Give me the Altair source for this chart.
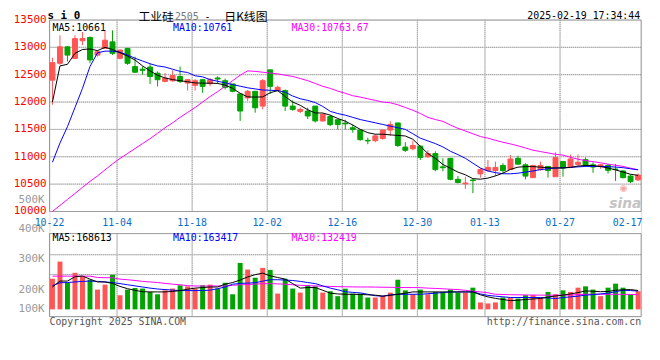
import altair as alt
import pandas as pd

# ---------------- data ----------------
open_ = [12400, 12708, 13009, 12798, 13120, 13180, 12858, 12980, 13100, 12800,
         12980, 12648, 12600, 12640, 12527, 12377, 12390, 12467, 12347, 12305,
         12408, 12336, 12440, 12390, 12330, 12148, 12076, 12196, 11926, 12588,
         12209, 12209, 11926, 11830, 11836, 11926, 11655, 11735, 11676, 11615,
         11530, 11488, 11300, 11294, 11335, 11488, 11618, 11177, 11147, 11194,
         11000, 11059, 10815, 10971, 10588, 10505, 10575, 10688, 10747, 10747,
         10841, 10765, 10971, 10853, 10618, 10765, 10824, 10635, 10912, 10812,
         10860, 10947, 10853, 10830, 10841, 10775, 10741, 10647, 10577]
close_ = [12720, 13009, 12858, 13160, 13160, 12770, 12919, 13130, 12890, 12950,
          12708, 12545, 12580, 12467, 12408, 12437, 12485, 12377, 12408, 12390,
          12287, 12408, 12420, 12269, 12196, 11836, 12196, 11895, 12390, 12287,
          12269, 11926, 11866, 11866, 11745, 11655, 11776, 11588, 11588, 11600,
          11500, 11312, 11290, 11382, 11488, 11588, 11206, 11118, 11206, 10988,
          11059, 10765, 10800, 10588, 10530, 10520, 10565, 10765, 10806, 10806,
          10747, 10959, 10865, 10647, 10841, 10841, 10747, 10988, 10794, 10959,
          10900, 10841, 10812, 10853, 10753, 10765, 10618, 10547, 10665]
high_ = [12810, 13220, 13020, 13220, 13280, 13200, 12950, 13300, 13310, 12960,
         12990, 12830, 12650, 12700, 12558, 12530, 12580, 12648, 12420, 12420,
         12420, 12440, 12470, 12430, 12330, 12148, 12220, 12196, 12420, 12588,
         12300, 12230, 12030, 11900, 11896, 11926, 11790, 11765, 11676, 11676,
         11590, 11488, 11350, 11412, 11488, 11647, 11618, 11265, 11294, 11206,
         11118, 11100, 10971, 10971, 10647, 10635, 10590, 10794, 10941, 10912,
         10882, 11030, 11018, 10882, 10853, 10912, 10824, 11080, 10912, 11040,
         11040, 10988, 10900, 10870, 10870, 10870, 10753, 10677, 10694]
low_ = [11950, 12680, 12740, 12790, 13040, 12710, 12830, 12970, 12860, 12780,
        12680, 12530, 12500, 12330, 12287, 12360, 12370, 12347, 12209, 12209,
        12166, 12290, 12330, 12230, 12180, 11655, 12020, 11805, 11866, 12150,
        12190, 11836, 11840, 11800, 11690, 11625, 11640, 11560, 11500, 11500,
        11440, 11294, 11230, 11265, 11312, 11382, 11177, 11088, 11118, 10941,
        10982, 10735, 10735, 10570, 10512, 10412, 10335, 10618, 10723, 10647,
        10706, 10765, 10853, 10588, 10618, 10747, 10618, 10635, 10635, 10794,
        10830, 10812, 10706, 10780, 10694, 10559, 10606, 10518, 10559]
volume = [274000, 427000, 236000, 327000, 294000, 265000, 177000, 221000, 309000, 126000,
          177000, 191000, 186000, 156000, 135000, 170000, 186000, 215000, 206000, 186000,
          215000, 221000, 186000, 238000, 135000, 415000, 356000, 283000, 371000, 353000,
          141000, 274000, 186000, 150000, 215000, 206000, 150000, 162000, 118000, 185000,
          141000, 141000, 106000, 106000, 121000, 150000, 265000, 170000, 135000, 177000,
          135000, 156000, 156000, 177000, 150000, 150000, 194000, 62000, 53000, 62000,
          106000, 106000, 97000, 127000, 127000, 106000, 156000, 135000, 170000, 156000,
          194000, 206000, 177000, 118000, 194000, 230000, 194000, 132000, 162000]
ma5 = [12000, 12660, 12690, 12890, 12960, 12970, 12940, 13000, 12960, 12900,
       12840, 12768, 12660, 12570, 12490, 12440, 12410, 12390, 12370, 12350,
       12345, 12345, 12340, 12310, 12250, 12160, 12094, 12090, 12094, 12170,
       12210, 12100, 12000, 11940, 11860, 11800, 11800, 11760, 11700, 11650,
       11580, 11500, 11440, 11412, 11412, 11400, 11390, 11380, 11320, 11190,
       11060, 10970, 10860, 10790, 10720, 10670, 10600, 10590, 10610, 10650,
       10700, 10770, 10810, 10820, 10820, 10810, 10800, 10795, 10795, 10805,
       10830, 10840, 10840, 10820, 10795, 10760, 10720, 10680, 10661]
ma10 = [10900, 11250, 11550, 11900, 12250, 12650, 12900, 12930, 12930, 12910,
        12860, 12800, 12750, 12700, 12660, 12640, 12600, 12560, 12540, 12480,
        12460, 12410, 12380, 12350, 12320, 12290, 12260, 12240, 12220, 12215,
        12209, 12180, 12110, 12060, 12030, 11990, 11920, 11830, 11790, 11760,
        11720, 11680, 11650, 11620, 11590, 11560, 11530, 11500, 11420, 11340,
        11290, 11240, 11180, 11100, 11040, 10971, 10882, 10794, 10740, 10710,
        10690, 10688, 10700, 10720, 10740, 10765, 10780, 10794, 10800, 10806,
        10815, 10824, 10824, 10824, 10820, 10812, 10800, 10780, 10761]
ma30 = [10000, 10110, 10220, 10330, 10440, 10550, 10650, 10760, 10870, 10970,
        11060, 11150, 11240, 11330, 11430, 11530, 11620, 11720, 11810, 11900,
        12000, 12100, 12190, 12290, 12390, 12490, 12570, 12560, 12545, 12530,
        12515, 12490, 12467, 12430, 12390, 12340, 12287, 12250, 12200, 12160,
        12115, 12090, 12060, 12030, 12000, 11986, 11950, 11900, 11850, 11790,
        11720, 11680, 11647, 11580, 11520, 11471, 11420, 11370, 11340, 11300,
        11265, 11235, 11200, 11160, 11120, 11095, 11070, 11045, 11030, 10990,
        10955, 10930, 10910, 10890, 10865, 10845, 10824, 10790, 10763.67]
vma5 = [200000, 253000, 253000, 292000, 298000, 270000, 245000, 245000, 232000, 205000,
        185000, 170000, 158000, 156000, 156000, 156000, 160000, 168000, 180000, 190000,
        195000, 200000, 200000, 225000, 240000, 262000, 290000, 310000, 324000, 300000,
        285000, 270000, 230000, 190000, 195000, 195000, 171000, 145000, 138000, 135000,
        135000, 133000, 130000, 127000, 118000, 125000, 135000, 145000, 156000, 156000,
        156000, 156000, 156000, 156000, 156000, 156000, 156000, 130000, 112000, 98000,
        88000, 78000, 82000, 88000, 93000, 97000, 110000, 120000, 127000, 138000,
        150000, 165000, 162000, 158000, 160000, 171000, 175000, 177000, 168613]
vma10 = [212000, 238000, 240000, 245000, 250000, 253000, 250000, 245000, 240000, 230000,
         220000, 210000, 200000, 190000, 182000, 177000, 172000, 168000, 168000, 168000,
         168000, 172000, 185000, 200000, 225000, 232000, 235000, 238000, 252000, 265000,
         265000, 262000, 258000, 250000, 240000, 230000, 210000, 190000, 175000, 158000,
         152000, 147000, 135000, 122000, 118000, 130000, 135000, 135000, 135000, 135000,
         140000, 145000, 150000, 155000, 156000, 156000, 156000, 138000, 125000, 118000,
         112000, 106000, 106000, 106000, 106000, 106000, 102000, 97000, 105000, 112000,
         118000, 127000, 132000, 138000, 145000, 158000, 171000, 168000, 163417]
vma30 = [297000, 297000, 297000, 297000, 297000, 297000, 285000, 283000, 283000, 270000,
         265000, 258000, 250000, 245000, 240000, 232000, 225000, 220000, 212000, 209000,
         209000, 209000, 209000, 209000, 215000, 220000, 222000, 226000, 230000, 230000,
         228000, 225000, 220000, 215000, 212000, 210000, 206000, 205000, 203000, 202000,
         201000, 200000, 200000, 199000, 198000, 197000, 196000, 195000, 195000, 194000,
         190000, 187000, 184000, 180000, 177000, 170000, 162000, 156000, 148000, 135000,
         133000, 131000, 130000, 129000, 128000, 127000, 127000, 127000, 127000, 129000,
         131000, 135000, 135000, 135000, 135000, 135000, 134000, 133000, 132419]
date_idx = [0, 9, 19, 29, 39, 49, 58, 68, 77]
date_lbl = ["10-22", "11-04", "11-18", "12-02", "12-16", "12-30", "01-13", "01-27", "02-17"]
price_ticks = [10000, 10500, 11000, 11500, 12000, 12500, 13000, 13500]
price_grid = [10500, 11000, 11500, 12000, 12500, 13000]
vol_grid = [311700, 488300]
vol_tick_lbl = ["500K", "400K", "300K", "200K", "100K"]

# ---------------- layout / style ----------------
W, H = 599, 300
XMAX = 78.8
P_LO, P_HI = 8084.8, 13500
V_LO, V_HI = -61810, 2587190
V_TOP, V_BOT = 677300, -64500
RED, GREEN = "#ff5555", "#00a400"
GRID, GRID_SOFT, FRAME = "#999999", "#d2d2d2", "#999999"
MONO = "DejaVu Sans Mono"
CJK = "Noto Sans CJK SC"
vol_lbl_y = [182, 212, 242, 273, 293]

xs = alt.Scale(domain=[0, XMAX], nice=False, zero=False)
ps = alt.Scale(domain=[P_LO, P_HI], nice=False, zero=False)
vs = alt.Scale(domain=[V_LO, V_HI], nice=False, zero=False)
dirs = alt.Scale(domain=["up", "down"], range=[RED, GREEN])

n = len(open_)
df = pd.DataFrame({"i": list(range(n)), "o": open_, "c": close_, "h": high_, "l": low_,
                   "v": volume, "ma5": ma5, "ma10": ma10, "ma30": ma30,
                   "vma5": vma5, "vma10": vma10, "vma30": vma30})
df["x0"] = df["i"] + 0.066
df["x1"] = df["i"] + 0.724
df["xc"] = df["i"] + 0.395
df["dir"] = ["up" if c >= o else "down" for o, c in zip(open_, close_)]
df["zero"] = 0

base = alt.Chart(df)


def seg(points, scale, color, dash=None):
    """One polyline (same construction as the panel border)."""
    rows = [{"fx": fx, "fy": fy, "k": k} for k, (fx, fy) in enumerate(points)]
    kw = dict(color=color, strokeWidth=1)
    if dash:
        kw["strokeDash"] = dash
    return alt.Chart(pd.DataFrame(rows)).mark_line(**kw).encode(
        x=alt.X("fx:Q", scale=xs, axis=None),
        y=alt.Y("fy:Q", scale=scale, axis=None), order="k:Q")


def grids(levels, top, bot, scale):
    out = []
    for lv in levels:
        pts = [(0, lv), (XMAX, lv)]
        out += [seg(pts, scale, GRID_SOFT), seg(pts, scale, GRID, [1, 1])]
    for g in date_idx[:-1]:
        pts = [(g, top), (g, bot)]
        out += [seg(pts, scale, GRID_SOFT), seg(pts, scale, GRID, [1, 1])]
    return out


def frame(top, bot, scale):
    return seg([(0, top), (XMAX, top), (XMAX, bot), (0, bot), (0, top)], scale, FRAME)


# --- price panel ---
plabels = alt.Chart(pd.DataFrame({"p": price_ticks})).mark_text(
    align="right", baseline="middle", font=MONO, fontSize=11, color="#ff0000").encode(
    y=alt.Y("p:Q", scale=ps, axis=None), x=alt.value(-3), text=alt.Text("p:Q", format="d"))
wicks = base.mark_rule(strokeWidth=1).encode(
    x=alt.X("xc:Q", scale=xs, axis=None),
    y=alt.Y("l:Q", scale=ps, axis=None), y2="h:Q",
    color=alt.Color("dir:N", scale=dirs, legend=None))
bodies = base.mark_rect(strokeWidth=1).encode(
    x=alt.X("x0:Q", scale=xs, axis=None), x2="x1:Q",
    y=alt.Y("o:Q", scale=ps, axis=None), y2="c:Q",
    fill=alt.Fill("dir:N", scale=dirs, legend=None),
    stroke=alt.Stroke("dir:N", scale=dirs, legend=None))


def pline(field, color, scale):
    return base.mark_line(strokeWidth=1, color=color).encode(
        x=alt.X("xc:Q", scale=xs, axis=None),
        y=alt.Y(f"{field}:Q", scale=scale, axis=None))


price_layers = [*grids(price_grid, P_HI, 10000, ps), frame(P_HI, 10000, ps),
                plabels, wicks, bodies,
                pline("ma30", "#ff00ff", ps), pline("ma10", "#0000ff", ps),
                pline("ma5", "#000000", ps)]

# --- volume panel ---
vbars = base.mark_rect().encode(
    x=alt.X("x0:Q", scale=xs, axis=None), x2="x1:Q",
    y=alt.Y("zero:Q", scale=vs, axis=None), y2="v:Q",
    fill=alt.Fill("dir:N", scale=dirs, legend=None))
vol_layers = [*grids(vol_grid, V_TOP, V_BOT, vs), frame(V_TOP, V_BOT, vs), vbars,
              pline("vma30", "#ff00ff", vs), pline("vma10", "#0000ff", vs),
              pline("vma5", "#000000", vs)]


# --- text ---
def txt(s, x, y, color="#000000", size=10, align="left", font=MONO, weight="normal", italic=False):
    return alt.Chart(pd.DataFrame({"t": [s]})).mark_text(
        align=align, baseline="middle", font=font, fontSize=size, fontWeight=weight,
        fontStyle="italic" if italic else "normal", color=color).encode(
        x=alt.value(x), y=alt.value(y), text="t:N")


texts = [
    txt("s i 0", -2, -4, size=11, weight="bold"),
    txt("工业硅", 90, -3, font=CJK, size=12),
    txt("2505", 127, -3, color="#777777", size=10),
    txt("-", 160, -3, size=10, align="center"),
    txt("日K线图", 177, -3, font=CJK, size=12),
    txt("2025-02-19 17:34:44", 598, -4, align="right"),
    txt(f"MA5:{ma5[-1]:.0f}", 3, 8.5),
    txt(f"MA10:{ma10[-1]:.0f}", 125, 8.5, color="#0000ff"),
    txt(f"MA30:{ma30[-1]:.2f}", 245, 8.5, color="#ff00ff"),
    txt(f"MA5:{vma5[-1]:.0f}", 3, 221),
    txt(f"MA10:{vma10[-1]:.0f}", 125, 221, color="#0000ff"),
    txt(f"MA30:{vma30[-1]:.0f}", 245, 221, color="#ff00ff"),
    txt("Copyright 2025 SINA.COM", 0, 306, color="#555555"),
    txt("http://finance.sina.com.cn", 599, 306, color="#555555", align="right"),
    txt("◉", 581, 170, color="#f4a5a5", size=9, font="DejaVu Sans", align="center"),
    txt("sina", 583, 186, color="#c4c4c4", size=14, font="DejaVu Sans", weight="bold",
        italic=True, align="center"),
]
for lbl, yy in zip(vol_tick_lbl, vol_lbl_y):
    texts.append(txt(lbl, -5, yy, color="#999999", size=11, align="right"))

date_df = pd.DataFrame({"g": date_idx, "lbl": date_lbl})
dates = alt.Chart(date_df).mark_text(align="center", baseline="middle", font=MONO,
                                     fontSize=10, color="#0a6ec8").encode(
    x=alt.X("g:Q", scale=xs, axis=None), y=alt.value(205.5), text="lbl:N")

chart = alt.layer(*price_layers, *vol_layers, dates, *texts).resolve_scale(
    y="independent").properties(
    width=W, height=H,
    autosize=alt.AutoSizeParams(type="none"),
    padding={"left": 42, "top": 10, "right": 11, "bottom": 30},
).configure_view(stroke=None).configure(background="white")

chart.save("out.html", embed_options={"renderer": "svg", "actions": False})
